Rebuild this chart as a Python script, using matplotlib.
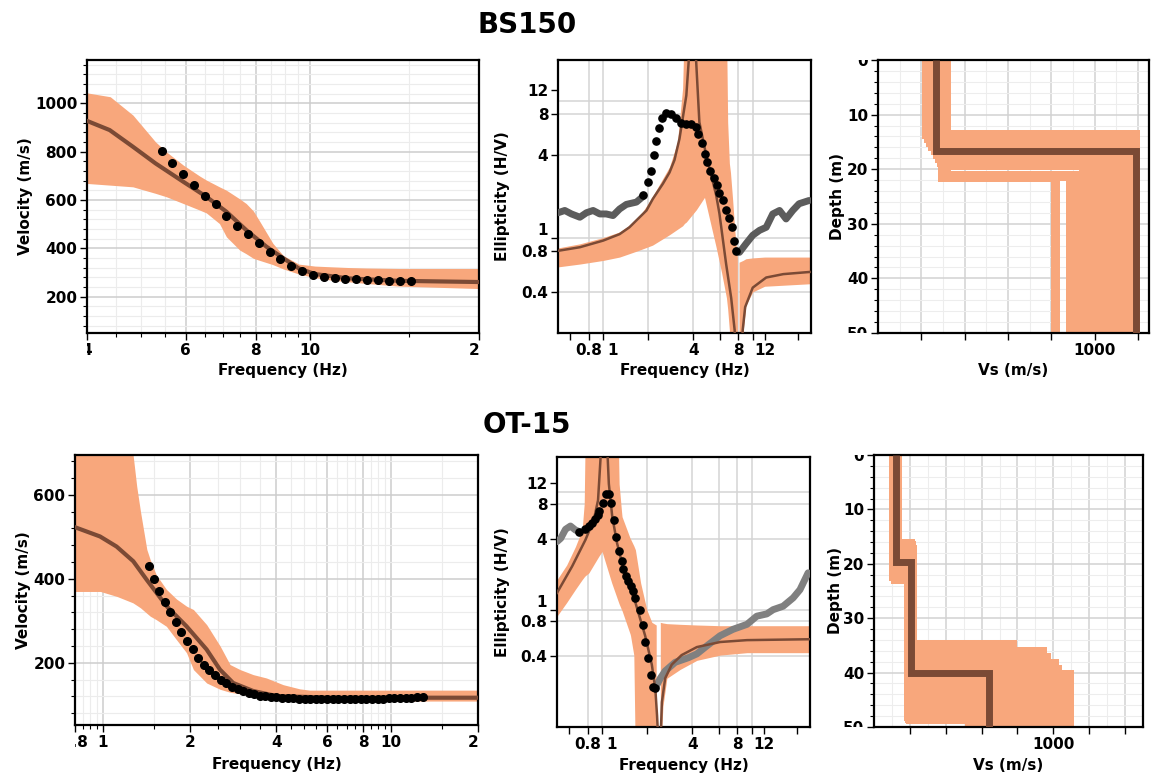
import matplotlib.pyplot as plt
from matplotlib.transforms import Bbox, TransformedBbox, ScaledTranslation
from matplotlib.ticker import NullFormatter, NullLocator, MultipleLocator

plt.rcParams['font.family'] = ['DejaVu Sans']
plt.rcParams['font.weight'] = 'bold'

ORANGE = '#f8a77c'
BROWN = '#7b4a35'
GRAY_TOP = '#5c5c5c'
GRAY_BOT = '#808080'

# ---------------- BS150 : dispersion ----------------
tl_band_f = [4.0, 4.4, 4.83, 5.3, 5.54, 5.94, 6.35, 6.53, 6.89, 7.09, 7.49, 7.69, 7.92,
             8.14, 8.58, 8.96, 9.55, 10.2, 10.9, 11.7, 12.6, 14.4, 20.0]
tl_band_hi = [1044, 1028, 952, 841, 800, 745, 700, 683, 655, 641, 605, 586, 555,
              510, 421, 370, 335, 327, 324, 321, 319, 317, 317]
tl_band_lo = [669, 662, 655, 628, 614, 586, 559, 547, 503, 448, 393, 378, 359,
              350, 333, 315, 294, 279, 269, 262, 255, 244, 234]
tl_best_f = [4.0, 4.39, 4.83, 5.3, 5.94, 6.53, 7.09, 7.69, 8.36, 8.96, 9.55, 10.2, 11.7, 14.4, 20.0]
tl_best_v = [928, 890, 821, 752, 676, 614, 552, 476, 407, 359, 317, 294, 276, 266, 261]
tl_obs_f = [5.44, 5.68, 5.94, 6.21, 6.49, 6.78, 7.09, 7.41, 7.75, 8.10, 8.47, 8.85,
            9.26, 9.68, 10.11, 10.58, 11.06, 11.56, 12.08, 12.64, 13.21, 13.82, 14.44, 15.10]
tl_obs_v = [804, 754, 710, 662, 619, 582, 534, 492, 458, 421, 386, 356,
            328, 308, 292, 283, 277, 274, 272, 269, 269, 266, 266, 266]

# ---------------- BS150 : ellipticity ----------------
tm_band_f = [0.5, 0.7, 1.0, 1.29, 1.7, 2.14, 2.78, 3.14, 3.4, 3.5, 3.6, 4.2, 4.76, 5.2,
             5.7, 6.2, 6.67, 6.8, 6.98, 7.1, 7.33, 7.6, 7.89]
tm_band_lo = [0.61, 0.64, 0.68, 0.72, 0.80, 0.88, 1.05, 1.15, 1.22, 1.27, 1.3, 1.6, 1.97, 1.3,
              0.845, 0.55, 0.363, 0.3, 0.21, 0.05, 0.05, 0.05, 0.05]
tm_band_hi = [0.84, 0.90, 1.0, 1.1, 1.35, 2.0, 3.3, 5.0, 12.4, 40, 40, 40, 40, 40,
              40, 40, 40, 7.0, 3.5, 3.0, 1.93, 1.1, 0.71]
tm_rband_f = [8.1, 8.6, 9.0, 10.0, 12.0, 25.0]
tm_rband_lo = [0.05, 0.2, 0.32, 0.40, 0.44, 0.46]
tm_rband_hi = [0.66, 0.68, 0.70, 0.71, 0.72, 0.72]
tm_best1_f = [0.5, 0.7, 1.0, 1.29, 1.5, 1.95, 2.15, 2.51, 2.78, 3.0, 3.24, 3.6, 3.73, 3.8]
tm_best1_e = [0.80, 0.85, 0.95, 1.06, 1.19, 1.58, 1.92, 2.48, 3.0, 3.7, 5.3, 11, 19.3, 30]
tm_best2_f = [4.1, 4.19, 4.4, 4.89, 5.70, 5.99, 6.64, 7.18, 7.57, 7.75]
tm_best2_e = [30, 19.3, 7.0, 4.0, 2.04, 1.5, 0.64, 0.36, 0.21, 0.1]
tm_best3_f = [8.3, 8.57, 8.9, 10.0, 12.3, 16.0, 24.0]
tm_best3_e = [0.1, 0.21, 0.31, 0.43, 0.51, 0.54, 0.56]
tm_obs_f = [1.85, 2.0, 2.10, 2.19, 2.27, 2.36, 2.49, 2.64, 2.83, 3.05, 3.30, 3.60, 3.88, 4.15,
            4.34, 4.57, 4.78, 4.98, 5.21, 5.49, 5.75, 5.99, 6.30, 6.64, 6.98, 7.28, 7.55, 7.74]
tm_obs_e = [2.04, 2.54, 3.10, 4.0, 5.06, 6.34, 7.5, 8.2, 8.1, 7.5, 6.94, 6.8, 6.8, 6.45,
            5.77, 4.95, 4.1, 3.57, 3.10, 2.72, 2.41, 2.13, 1.87, 1.6, 1.38, 1.19, 0.95, 0.80]
tm_gray1_f = [0.5, 0.555, 0.615, 0.70, 0.774, 0.858, 0.95, 1.05, 1.166, 1.29, 1.43, 1.67, 1.85]
tm_gray1_e = [1.52, 1.58, 1.49, 1.41, 1.52, 1.58, 1.49, 1.49, 1.45, 1.62, 1.75, 1.82, 2.0]
tm_gray2_f = [7.74, 8.15, 9.0, 10.0, 11.1, 12.3, 13.6, 15.1, 16.7, 18.5, 20.4, 23.8]
tm_gray2_e = [0.80, 0.78, 0.90, 1.04, 1.13, 1.19, 1.49, 1.58, 1.37, 1.58, 1.77, 1.87]

# ---------------- BS150 : Vs profiles ----------------
tr_best_vs = [269, 1192]
tr_best_bot = [16.7, 50]
tr_vs1 = [222, 230, 240, 250, 262, 272, 282, 292, 300, 308, 315, 295]
tr_h1 = [13.5, 14.3, 15.0, 15.8, 16.5, 17.2, 18.0, 18.7, 19.3, 21.0, 21.3, 21.4]
tr_vs2 = [1185, 1155, 1125, 1095, 1065, 1035, 1005, 975, 945, 915, 885, 817]

# ---------------- OT-15 : dispersion ----------------
bl_band_f = [0.8, 0.98, 1.12, 1.27, 1.31, 1.35, 1.42, 1.46, 1.53, 1.66, 1.80, 1.95, 2.06,
             2.29, 2.55, 2.76, 2.99, 3.32, 3.69, 4.22, 4.82, 5.22, 6.3, 20.0]
bl_band_hi = [800, 800, 800, 700, 620, 560, 470, 445, 410, 375, 352, 335, 327,
              291, 240, 196, 184, 172, 164, 148, 138, 135, 135, 135]
bl_band_lo = [370, 370, 358, 343, 337, 331, 318, 311, 303, 287, 255, 224, 184,
              152, 137, 130, 126, 121, 117, 113, 111, 110, 109, 109]
bl_best_f = [0.8, 0.977, 1.115, 1.274, 1.418, 1.663, 1.950, 2.288, 2.546, 2.831, 3.321, 4.0, 6.29, 20.0]
bl_best_v = [523, 501, 477, 442, 398, 335, 287, 232, 184, 152, 133, 121, 117, 117]
bl_obs_f = [1.44, 1.50, 1.57, 1.64, 1.71, 1.79, 1.87, 1.96, 2.05, 2.14, 2.24, 2.34, 2.44,
            2.56, 2.68, 2.80, 2.93, 3.06, 3.20, 3.35, 3.50, 3.66, 3.83, 4.00, 4.19, 4.38,
            4.58, 4.79, 5.01, 5.24, 5.48, 5.73, 5.99, 6.27, 6.55, 6.85, 7.17, 7.50, 7.84,
            8.20, 8.58, 8.97, 9.38, 9.81, 10.26, 10.73, 11.23, 11.74, 12.28, 12.84]
bl_obs_v = [430, 400, 370, 345, 321, 297, 274, 251, 232, 212, 194, 183, 171,
            160, 151, 143, 137, 132, 128, 125, 122, 120, 119, 118, 117, 116,
            116, 115, 115, 115, 114, 114, 114, 114, 114, 114, 114, 114, 114,
            115, 115, 115, 115, 116, 116, 116, 117, 117, 118, 118]

# ---------------- OT-15 : ellipticity ----------------
bm_band_f = [0.5, 0.58, 0.664, 0.736, 0.76, 0.774, 0.815, 0.95, 1.0, 1.16, 1.29, 1.30, 1.35,
             1.36, 1.54, 1.55, 1.63, 1.67, 1.81, 1.99, 2.15, 2.3]
bm_band_lo = [0.88, 1.15, 1.49, 1.80, 1.90, 1.95, 2.05, 2.84, 3.13, 1.69, 1.15, 1.12, 1.0,
              0.98, 0.62, 0.6, 0.41, 0.05, 0.05, 0.05, 0.05, 0.05]
bm_band_hi = [1.8, 2.4, 3.45, 4.8, 8.0, 40, 40, 40, 40, 40, 20, 11.8, 6.8,
              6.2, 4.06, 4.0, 3.5, 3.24, 1.69, 1.0, 0.78, 0.74]
bm_rband_f = [2.45, 2.55, 2.71, 3.33, 4.3, 6.15, 9.3, 25.0]
bm_rband_lo = [0.05, 0.15, 0.26, 0.31, 0.37, 0.41, 0.43, 0.43]
bm_rband_hi = [0.78, 0.77, 0.76, 0.75, 0.74, 0.73, 0.73, 0.73]
bm_best1_f = [0.5, 0.631, 0.774, 0.88, 0.94, 0.975, 0.99]
bm_best1_e = [1.39, 2.34, 3.93, 5.8, 8.56, 18.7, 30]
bm_best2_f = [1.07, 1.09, 1.11, 1.17, 1.26, 1.43, 1.67, 1.94, 2.15, 2.27, 2.33, 2.36]
bm_best2_e = [30, 20, 11.8, 6.19, 3.68, 1.93, 1.15, 0.60, 0.34, 0.21, 0.125, 0.09]
bm_best3_f = [2.47, 2.51, 2.64, 2.92, 3.4, 4.3, 6.15, 9.3, 25.0]
bm_best3_e = [0.09, 0.163, 0.26, 0.34, 0.41, 0.48, 0.53, 0.55, 0.56]
bm_obs_f = [0.706, 0.766, 0.815, 0.858, 0.903, 0.94, 0.96, 1.01, 1.06, 1.11, 1.15, 1.20, 1.24,
            1.29, 1.35, 1.39, 1.44, 1.49, 1.55, 1.60, 1.67, 1.80, 1.87, 1.93, 2.03, 2.12, 2.18, 2.27]
bm_obs_e = [4.62, 4.84, 5.16, 5.5, 5.87, 6.39, 6.95, 8.13, 9.74, 9.62, 8.13, 5.8, 4.14,
            3.19, 2.58, 2.22, 1.95, 1.75, 1.58, 1.44, 1.26, 0.99, 0.74, 0.53, 0.385, 0.28, 0.22, 0.215]
bm_gray1_f = [0.5, 0.53, 0.57, 0.615, 0.664, 0.706]
bm_gray1_e = [3.8, 4.06, 4.84, 5.16, 4.77, 4.62]
bm_gray2_f = [2.27, 2.45, 2.64, 3.08, 3.78, 4.3, 5.0, 6.15, 7.5, 9.3, 10.8, 12.6, 13.9, 16.2,
              18.9, 21.0, 23.8]
bm_gray2_e = [0.215, 0.26, 0.30, 0.356, 0.39, 0.42, 0.49, 0.60, 0.68, 0.75, 0.88, 0.92, 1.0,
              1.07, 1.26, 1.48, 2.06]

# ---------------- OT-15 : Vs profiles ----------------
br_best_vs = [120, 209, 639]
br_best_bot = [19.7, 40.1, 50]
br_vs1 = [112, 118, 124, 115, 121, 110, 126, 117, 113, 123, 119, 111, 125, 116, 120, 114, 122]
br_h1 = [16.3, 16.7, 17.1, 17.5, 17.9, 18.3, 18.7, 19.1, 19.5, 19.9, 20.3, 20.7, 21.1,
         21.5, 21.9, 22.3, 22.8]
br_vs2 = [200, 205, 195, 210, 198, 207, 202, 212, 196, 204, 199, 209, 201, 206, 197, 203, 208]
br_h2 = [35.0, 36.2, 37.4, 38.5, 39.6, 40.5, 41.5, 42.4, 43.3, 44.2, 45.1, 45.9, 46.7,
         47.4, 48.0, 48.4, 48.6]
br_vs3 = [770, 935, 960, 1005, 1020, 1090, 1050, 970, 895, 850, 810, 730, 690,
          650, 610, 575, 535]


fig = plt.figure(figsize=(11.51, 7.83), dpi=100)


def style(ax):
    ax.set_axisbelow(True)
    for s in ax.spines.values():
        s.set_linewidth(1.6)
        s.set_color('black')
    ax.tick_params(which='major', direction='out', length=5, width=1, labelsize=11, pad=2)
    ax.tick_params(which='minor', direction='out', length=3, width=0.8)


def clip(ax, labels, box):
    bb = TransformedBbox(Bbox(box), ax.transAxes)
    for t in labels:
        t.set_clip_on(True)
        t.set_clip_box(bb)


def nudge(label, dx, dy):
    label.set_transform(label.get_transform() + ScaledTranslation(dx / 72, dy / 72, fig.dpi_scale_trans))


def profile(vs, bots):
    xs, ys, top = [], [], 0
    for v, b in zip(vs, bots):
        xs += [v, v]
        ys += [top, b]
        top = b
    return xs, ys


def dispersion(ax, band_f, lo, hi, best_f, best_v, obs_f, obs_v, xlim, ylim, yt,
               xt, xtl, xminor, lab_xy):
    ax.set_xscale('log')
    ax.fill_between(band_f, lo, hi, color=ORANGE, lw=0, zorder=2)
    ax.plot(best_f, best_v, color=BROWN, lw=3, zorder=3)
    ax.plot(obs_f, obs_v, 'o', color='black', ms=5.5, zorder=4)
    ax.set_xticks(xt, xtl)
    ax.set_xticks(xminor, minor=True)
    ax.xaxis.set_minor_formatter(NullFormatter())
    ax.set_yticks(yt)
    ax.yaxis.set_minor_locator(MultipleLocator(40))
    ax.set_xlim(*xlim)
    ax.set_ylim(*ylim)
    ax.grid(which='major', color='#cdcdcd', lw=1.1)
    ax.grid(which='minor', color='#ececec', lw=0.8)
    style(ax)
    ax.set_xlabel('Frequency (Hz)', fontsize=11, fontweight='bold')
    ax.set_ylabel('Velocity (m/s)', fontsize=11, fontweight='bold')
    ax.xaxis.set_label_coords(0.5, lab_xy[1])
    ax.yaxis.set_label_coords(lab_xy[0], 0.5)
    clip(ax, [t.label1 for t in ax.xaxis.get_major_ticks()], [[0, -1], [1, 2]])


def ellipticity(ax, bands, bests, obs, grays, gray_color, ylim, lab_xy):
    ax.set_xscale('log')
    ax.set_yscale('log')
    for x in [0.8, 1, 2, 4, 6, 8, 10]:
        ax.axvline(x, color='#d4d4d4', lw=1.1, zorder=0)
    for y in [0.4, 0.8, 1, 4, 8, 10]:
        ax.axhline(y, color='#d4d4d4', lw=1.1, zorder=0)
    for f, lo, hi in bands:
        ax.fill_between(f, lo, hi, color=ORANGE, lw=0, zorder=2)
    for f, e in grays:
        ax.plot(f, e, color=gray_color, lw=5, solid_capstyle='round', zorder=3)
    for f, e in bests:
        ax.plot(f, e, color=BROWN, lw=1.8, zorder=4)
    ax.plot(obs[0], obs[1], 'o', color='black', ms=5.2, zorder=5)
    ax.set_xticks([0.6, 0.8, 1, 2, 4, 6, 8, 10, 12, 20],
                  ['', '0.8', '1', '', '4', '', '8', '', '12', ''])
    ax.xaxis.set_minor_locator(NullLocator())
    ax.set_yticks([0.4, 0.8, 1, 4, 8, 12], ['0.4', '0.8', '1', '4', '8', '12'])
    ax.yaxis.set_minor_locator(NullLocator())
    ax.set_xlim(0.5, 24.5)
    ax.set_ylim(*ylim)
    style(ax)
    ax.set_xlabel('Frequency (Hz)', fontsize=11, fontweight='bold')
    ax.set_ylabel('Ellipticity (H/V)', fontsize=11, fontweight='bold')
    ax.xaxis.set_label_coords(0.5, lab_xy[1])
    ax.yaxis.set_label_coords(lab_xy[0], 0.5)
    nudge(ax.xaxis.get_major_ticks()[2].label1, 7, 0)
    nudge(ax.yaxis.get_major_ticks()[2].label1, 0, 6.5)


def vs_panel(ax, layers, best, xmax, lab_xy, band_lw):
    for vs, bots in layers:
        xs, ys = profile(vs, bots)
        ax.plot(xs, ys, color=ORANGE, lw=band_lw, solid_capstyle='butt',
                solid_joinstyle='miter', antialiased=False, zorder=2)
    xs, ys = profile(*best)
    ax.plot(xs, ys, color=BROWN, lw=5, solid_capstyle='butt', solid_joinstyle='miter', zorder=3)
    ticks = list(range(200, int(xmax), 200))
    ax.set_xticks(ticks, ['1000' if t == 1000 else '' for t in ticks])
    ax.xaxis.set_minor_locator(MultipleLocator(100))
    ax.set_yticks([0, 10, 20, 30, 40, 50])
    ax.yaxis.set_minor_locator(MultipleLocator(2))
    ax.set_xlim(0, xmax)
    ax.set_ylim(50, 0)
    ax.grid(which='major', color='#d2d2d2', lw=1.1)
    ax.grid(which='minor', color='#ededed', lw=0.8)
    style(ax)
    ax.tick_params(axis='x', which='minor', length=0)
    ax.set_xlabel('Vs (m/s)', fontsize=11, fontweight='bold')
    ax.set_ylabel('Depth (m)', fontsize=11, fontweight='bold')
    ax.xaxis.set_label_coords(0.5, lab_xy[1])
    ax.yaxis.set_label_coords(lab_xy[0], 0.5)
    clip(ax, [t.label1 for t in ax.yaxis.get_major_ticks()], [[-1, 0], [2, 1]])


W, H = 1151, 783


def add(x0, x1, ytop, ybot):
    return fig.add_axes([x0 / W, 1 - ybot / H, (x1 - x0) / W, (ybot - ytop) / H])


ax_tl = add(87, 479, 60, 333)
ax_tm = add(558, 811, 60, 333)
ax_tr = add(878, 1149, 60, 333)
ax_bl = add(75, 478, 455, 725)
ax_bm = add(557, 810, 457, 727)
ax_br = add(874, 1143, 455, 727)

dispersion(ax_tl, tl_band_f, tl_band_lo, tl_band_hi, tl_best_f, tl_best_v, tl_obs_f, tl_obs_v,
           (4, 20), (50, 1180), [200, 400, 600, 800, 1000],
           [4, 6, 8, 10, 20], ['4', '6', '8', '10', '20'],
           [4.5, 5, 5.5, 6.5, 7, 7.5, 8.5, 9, 9.5, 15], (-0.138, -0.11))
dispersion(ax_bl, bl_band_f, bl_band_lo, bl_band_hi, bl_best_f, bl_best_v, bl_obs_f, bl_obs_v,
           (0.8, 20), (52, 695), [200, 400, 600],
           [0.8, 1, 2, 4, 6, 8, 10, 20],
           ['0.8', '1', '2', '4', '6', '8', '10', '20'],
           [0.85, 0.9, 0.95, 1.5, 2.5, 3, 3.5, 4.5, 5, 5.5, 6.5, 7, 7.5, 8.5, 9, 9.5, 15],
           (-0.109, -0.12))

ellipticity(ax_tm,
            [(tm_band_f, tm_band_lo, tm_band_hi), (tm_rband_f, tm_rband_lo, tm_rband_hi)],
            [(tm_best1_f, tm_best1_e), (tm_best2_f, tm_best2_e), (tm_best3_f, tm_best3_e)],
            (tm_obs_f, tm_obs_e),
            [(tm_gray1_f, tm_gray1_e), (tm_gray2_f, tm_gray2_e)], GRAY_TOP,
            (0.2, 20), (-0.19, -0.11))
ellipticity(ax_bm,
            [(bm_band_f, bm_band_lo, bm_band_hi), (bm_rband_f, bm_rband_lo, bm_rband_hi)],
            [(bm_best1_f, bm_best1_e), (bm_best2_f, bm_best2_e), (bm_best3_f, bm_best3_e)],
            (bm_obs_f, bm_obs_e),
            [(bm_gray1_f, bm_gray1_e), (bm_gray2_f, bm_gray2_e)], GRAY_BOT,
            (0.1, 20), (-0.186, -0.115))

tr_layers = [([a, c], [b, 50]) for a, b, c in zip(tr_vs1, tr_h1, tr_vs2)]
vs_panel(ax_tr, tr_layers, (tr_best_vs, tr_best_bot), 1250, (-0.122, -0.11), 5.2)
br_layers = [([a, c, e], [b, d, 50]) for a, b, c, d, e in zip(br_vs1, br_h1, br_vs2, br_h2, br_vs3)]
vs_panel(ax_br, br_layers, (br_best_vs, br_best_bot), 1500, (-0.115, -0.115), 6.0)

fig.text(527 / W, 1 - 25 / H, 'BS150', ha='center', va='center', fontsize=20, fontweight='bold')
fig.text(527 / W, 1 - 425 / H, 'OT-15', ha='center', va='center', fontsize=20, fontweight='bold')

fig.savefig('out.png', dpi=100)
